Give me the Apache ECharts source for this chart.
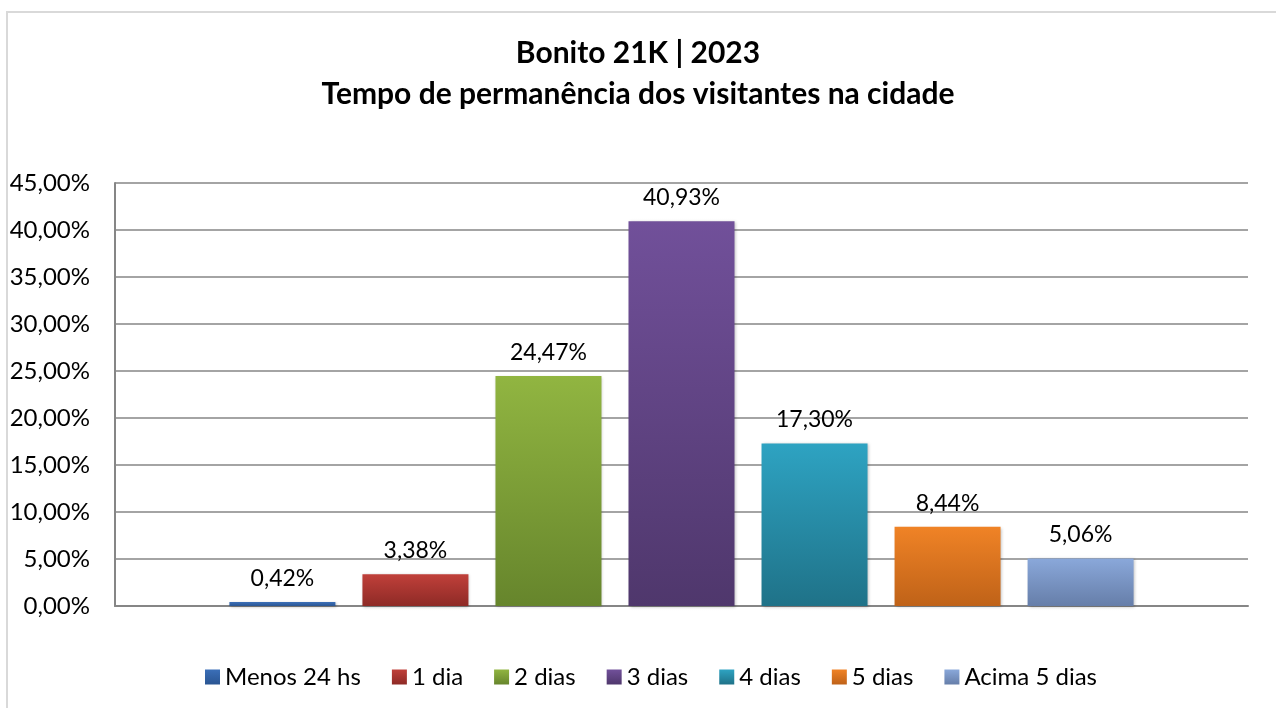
<!DOCTYPE html>
<html>
<head>
<meta charset="utf-8">
<script src="https://cdn.jsdelivr.net/npm/echarts@6/dist/echarts.min.js"></script>
<style>
  html, body { margin: 0; padding: 0; background: #fff; }
  #chart { width: 1276px; height: 708px; }
</style>
</head>
<body>
<div id="chart"></div>
<script>
var seriesNames = ['Menos 24 hs', '1 dia', '2 dias', '3 dias', '4 dias', '5 dias', 'Acima 5 dias'];
var seriesValues = [0.42, 3.38, 24.47, 40.93, 17.30, 8.44, 5.06];
var topColors = ['#3b6fb8', '#c0403a', '#91b541', '#71509a', '#2ea3c2', '#f08326', '#8aa8da'];
var bottomColors = ['#2a5592', '#8e2a26', '#66852c', '#4f376c', '#1f7288', '#bf6218', '#667ea9'];

var myChart = echarts.init(document.getElementById('chart'));
var font = 'Lato, "Open Sans", sans-serif';

function pct(v) {
    return v.toFixed(2).replace('.', ',') + '%';
}

var series = seriesNames.map(function(name, i) {
    return {
        name: name,
        type: 'bar',
        data: [seriesValues[i]],
        barWidth: 106,
        barGap: '25.5%',
        itemStyle: {
            color: new echarts.graphic.LinearGradient(0, 0, 0, 1, [
                {offset: 0, color: topColors[i]},
                {offset: 1, color: bottomColors[i]}
            ]),
            shadowColor: 'rgba(0,0,0,0.25)',
            shadowBlur: 3,
            shadowOffsetX: 1,
            shadowOffsetY: 1
        },
        label: {
            show: true,
            position: 'top',
            distance: 12,
            color: '#000',
            fontSize: 23,
            fontFamily: font,
            formatter: function(p) { return pct(p.value); }
        }
    };
});

var option = {
    backgroundColor: '#fff',
    animation: false,
    title: {
        text: 'Bonito 21K | 2023\nTempo de permanência dos visitantes na cidade',
        left: 'center',
        top: 28,
        textStyle: {
            color: '#000',
            fontSize: 30,
            fontWeight: 'bold',
            fontFamily: font,
            lineHeight: 41
        }
    },
    color: topColors,
    legend: {
        bottom: 14,
        left: 200,
        itemWidth: 15,
        itemHeight: 15,
        itemGap: 31,
        icon: 'rect',
        textStyle: { color: '#000', fontSize: 24, fontFamily: font },
        data: seriesNames
    },
    grid: { left: 115, right: 28, top: 183, bottom: 102 },
    xAxis: {
        type: 'category',
        data: [''],
        axisLine: { show: true, lineStyle: { color: '#868686', width: 2 } },
        axisTick: { show: false },
        axisLabel: { show: false }
    },
    yAxis: {
        type: 'value',
        min: 0,
        max: 45,
        interval: 5,
        axisLine: { show: true, lineStyle: { color: '#868686', width: 2 } },
        axisTick: { show: false },
        splitLine: { lineStyle: { color: '#868686', width: 1.5 } },
        axisLabel: {
            color: '#000',
            fontSize: 24,
            fontFamily: font,
            margin: 25,
            formatter: function(v) { return pct(v); }
        }
    },
    graphic: [{
        type: 'rect',
        shape: { x: 7, y: 12, width: 1300, height: 720 },
        style: { fill: 'none', stroke: '#d9d9d9', lineWidth: 2 },
        silent: true
    }],
    series: series
};

myChart.setOption(option);
</script>
</body>
</html>
